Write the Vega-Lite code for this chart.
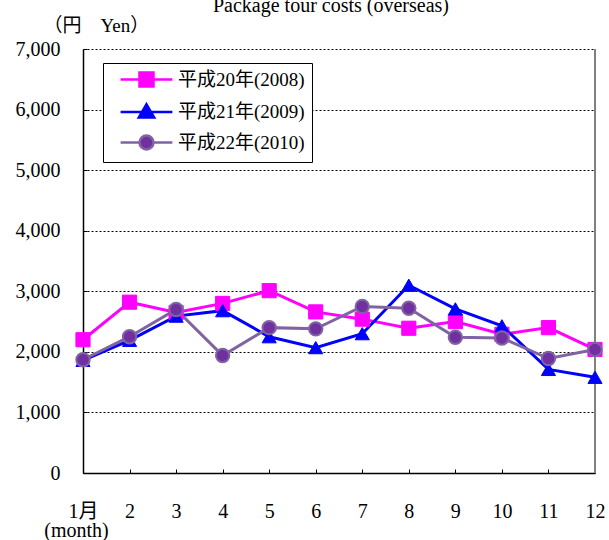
{
  "$schema": "https://vega.github.io/schema/vega-lite/v6.json",
  "autosize": "none",
  "width": 512,
  "height": 424,
  "padding": {"left": 83, "top": 49, "right": 14, "bottom": 67},
  "background": "white",
  "config": {
    "view": {"stroke": null},
    "font": "Liberation Serif, Noto Sans CJK JP",
    "axis": {"labelFont": "Liberation Serif, Noto Sans CJK JP", "titleFont": "Liberation Serif, Noto Sans CJK JP", "labelColor": "black", "titleColor": "black", "titleFontWeight": "normal"}
  },
  "title": {
    "text": "Package tour costs (overseas)",
    "frame": "group",
    "anchor": "middle",
    "dx": -8,
    "dy": 16,
    "offset": 0,
    "baseline": "alphabetic",
    "fontSize": 20,
    "fontWeight": "normal",
    "font": "Liberation Serif",
    "color": "black"
  },
  "data": {
    "values": [
      {"month": 1, "series": "平成20年(2008)", "value": 2200},
      {"month": 2, "series": "平成20年(2008)", "value": 2820},
      {"month": 3, "series": "平成20年(2008)", "value": 2650},
      {"month": 4, "series": "平成20年(2008)", "value": 2800},
      {"month": 5, "series": "平成20年(2008)", "value": 3010},
      {"month": 6, "series": "平成20年(2008)", "value": 2660},
      {"month": 7, "series": "平成20年(2008)", "value": 2540},
      {"month": 8, "series": "平成20年(2008)", "value": 2390},
      {"month": 9, "series": "平成20年(2008)", "value": 2500},
      {"month": 10, "series": "平成20年(2008)", "value": 2290},
      {"month": 11, "series": "平成20年(2008)", "value": 2400},
      {"month": 12, "series": "平成20年(2008)", "value": 2040},
      {"month": 1, "series": "平成21年(2009)", "value": 1860},
      {"month": 2, "series": "平成21年(2009)", "value": 2190},
      {"month": 3, "series": "平成21年(2009)", "value": 2590},
      {"month": 4, "series": "平成21年(2009)", "value": 2680},
      {"month": 5, "series": "平成21年(2009)", "value": 2250},
      {"month": 6, "series": "平成21年(2009)", "value": 2070},
      {"month": 7, "series": "平成21年(2009)", "value": 2300},
      {"month": 8, "series": "平成21年(2009)", "value": 3100},
      {"month": 9, "series": "平成21年(2009)", "value": 2710},
      {"month": 10, "series": "平成21年(2009)", "value": 2430},
      {"month": 11, "series": "平成21年(2009)", "value": 1710},
      {"month": 12, "series": "平成21年(2009)", "value": 1580},
      {"month": 1, "series": "平成22年(2010)", "value": 1870},
      {"month": 2, "series": "平成22年(2010)", "value": 2250},
      {"month": 3, "series": "平成22年(2010)", "value": 2700},
      {"month": 4, "series": "平成22年(2010)", "value": 1940},
      {"month": 5, "series": "平成22年(2010)", "value": 2400},
      {"month": 6, "series": "平成22年(2010)", "value": 2380},
      {"month": 7, "series": "平成22年(2010)", "value": 2750},
      {"month": 8, "series": "平成22年(2010)", "value": 2720},
      {"month": 9, "series": "平成22年(2010)", "value": 2240},
      {"month": 10, "series": "平成22年(2010)", "value": 2230},
      {"month": 11, "series": "平成22年(2010)", "value": 1890},
      {"month": 12, "series": "平成22年(2010)", "value": 2040}
    ]
  },
  "encoding": {
    "x": {
      "field": "month", "type": "quantitative",
      "scale": {"domain": [1, 12], "nice": false, "zero": false},
      "axis": {
        "values": [1,2,3,4,5,6,7,8,9,10,11,12],
        "labelExpr": "datum.value === 1 ? '1月' : datum.label",
        "grid": false,
        "domainColor": "black", "domainWidth": 1.5,
        "tickColor": "black", "tickSize": -4, "tickWidth": 1,
        "labelFontSize": 20, "labelPadding": 42, "labelBaseline": "middle",
        "labelFlush": false, "labelOverlap": false,
        "title": "(month)", "titleFontSize": 20,
        "titleX": -7, "titleY": 57, "titleAlign": "center", "titleBaseline": "middle", "titleAnchor": null
      }
    },
    "y": {
      "field": "value", "type": "quantitative",
      "scale": {"domain": [0, 7000], "nice": false},
      "axis": {
        "values": [0,1000,2000,3000,4000,5000,6000,7000],
        "format": ",.0f",
        "grid": true, "gridColor": "black", "gridDash": [2, 2], "gridWidth": 1,
        "domainColor": "black", "domainWidth": 1.5,
        "tickColor": "black", "tickSize": -4, "tickWidth": 1,
        "labelFontSize": 20, "labelPadding": 27,
        "title": "（円　Yen）", "titleFontSize": 19, "titleAngle": 0,
        "titleX": -40, "titleY": -18, "titleAlign": "left", "titleBaseline": "alphabetic", "titleAnchor": null
      }
    }
  },
  "layer": [
    {
      "mark": {"type": "rule", "color": "#808080", "strokeWidth": 2},
      "encoding": {"x": {"datum": 12}, "y": null}
    },
    {
      "mark": {"type": "line", "strokeWidth": 3},
      "encoding": {
        "stroke": {
          "field": "series", "type": "nominal",
          "scale": {"domain": ["平成20年(2008)", "平成21年(2009)", "平成22年(2010)"], "range": ["#FF00FF", "#0000FF", "#8064A2"]},
          "legend": {
            "title": null,
            "orient": "none",
            "legendX": 20,
            "legendY": 14,
            "padding": 7,
            "strokeColor": "black",
            "fillColor": "white",
            "symbolSize": 196,
            "symbolOffset": 27,
            "labelOffset": 22,
            "rowPadding": 6.5,
            "labelFont": "Liberation Serif, Noto Sans CJK JP",
            "labelFontSize": 19,
            "labelColor": "black",
            "labelLimit": 300,
            "encode": {
              "symbols": {
                "update": {
                  "shape": {"signal": "datum.value === '平成20年(2008)' ? 'M-3.7,0H3.7M-1,-1H1V1H-1Z' : datum.value === '平成21年(2009)' ? 'M-3.7,0H3.7M0,-1.1L1.1,0.8L-1.1,0.8Z' : 'M-3.7,0H-1M1,0H3.7M-1,0A1,1,0,1,1,1,0A1,1,0,1,1,-1,0Z'"},
                  "fill": {"signal": "datum.value === '平成20年(2008)' ? '#FF00FF' : datum.value === '平成21年(2009)' ? '#0000FF' : '#7030A0'"},
                  "stroke": {"signal": "datum.value === '平成20年(2008)' ? '#FF00FF' : datum.value === '平成21年(2009)' ? '#0000FF' : '#8064A2'"},
                  "strokeWidth": {"value": 2.5},
                  "opacity": {"value": 1}
                }
              }
            }
          }
        }
      }
    },
    {
      "transform": [{"filter": {"field": "series", "equal": "平成20年(2008)"}}],
      "mark": {"type": "point", "shape": "square", "filled": true, "size": 200, "opacity": 1, "color": "#FF00FF", "stroke": "#FF00FF", "strokeWidth": 1}
    },
    {
      "transform": [{"filter": {"field": "series", "equal": "平成21年(2009)"}}],
      "mark": {"type": "point", "shape": "triangle-up", "filled": true, "size": 200, "opacity": 1, "color": "#0000FF", "stroke": "#0000FF", "strokeWidth": 1}
    },
    {
      "transform": [{"filter": {"field": "series", "equal": "平成22年(2010)"}}],
      "mark": {"type": "point", "shape": "circle", "filled": true, "size": 180, "opacity": 1, "fill": "#7030A0", "stroke": "#8064A2", "strokeWidth": 2}
    }
  ]
}
